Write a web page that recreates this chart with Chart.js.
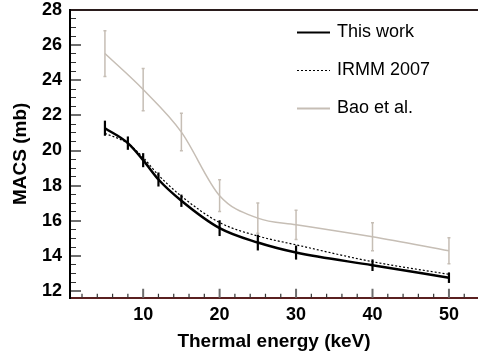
<!DOCTYPE html>
<html>
<head>
<meta charset="utf-8">
<script src="https://cdn.jsdelivr.net/npm/chart.js@4"></script>
<style>
  html, body { margin: 0; padding: 0; background: #fff; }
</style>
</head>
<body>
<canvas id="chart" width="478" height="358"></canvas>
<script>
// thermal energies (keV)
const energies = [5, 8, 10, 12, 15, 20, 25, 30, 40, 50];
const thisWork = [21.27, 20.42, 19.45, 18.35, 17.14, 15.58, 14.76, 14.19, 13.47, 12.76];
const thisWorkErr = [0.43, 0.38, 0.4, 0.4, 0.35, 0.45, 0.45, 0.4, 0.33, 0.3];
const irmm2007 = [20.98, 20.4, 19.6, 18.6, 17.4, 15.9, 15.13, 14.63, 13.67, 12.95];

const baoEnergies = [5, 10, 15, 20, 25, 30, 40, 50];
const bao = [25.52, 23.47, 21.05, 17.43, 16.15, 15.77, 15.09, 14.29];
const baoErr = [1.3, 1.2, 1.07, 0.9, 0.86, 0.83, 0.8, 0.74];

const xTicks = [10, 20, 30, 40, 50];
const yTicks = [12, 14, 16, 18, 20, 22, 24, 26, 28];

const pts = (xs, ys) => xs.map((x, i) => ({ x: x, y: ys[i] }));

const BAO_COLOR = '#c6beb5';
const FONT = '"Liberation Sans", Arial, sans-serif';

// minor y ticks every 0.5 mb between the labelled ones
const yMinor = [];
for (let k = 1; k < 32; k++) if (k % 4 !== 0) yMinor.push(12 + k * 0.5);

// error bars and bottom tick marks, through the scales
const marks = {
  id: 'marks',
  afterDatasetsDraw(chart) {
    const { ctx, scales: { x, y } } = chart;
    const bottom = y.getPixelForValue(y.min);

    const draw = (xs, ys, errs, color, width, cap) => {
      ctx.save();
      ctx.strokeStyle = color;
      ctx.lineWidth = width;
      xs.forEach((v, i) => {
        const px = x.getPixelForValue(v);
        const hi = y.getPixelForValue(ys[i] + errs[i]);
        const lo = y.getPixelForValue(ys[i] - errs[i]);
        ctx.beginPath();
        ctx.moveTo(px, hi);
        ctx.lineTo(px, lo);
        if (cap) {
          ctx.moveTo(px - cap, hi); ctx.lineTo(px + cap, hi);
          ctx.moveTo(px - cap, lo); ctx.lineTo(px + cap, lo);
        }
        ctx.stroke();
      });
      ctx.restore();
    };
    draw(baoEnergies, bao, baoErr, BAO_COLOR, 1.5, 1.5);
    draw(energies, thisWork, thisWorkErr, '#000', 2.2, 0);

    ctx.save();
    ctx.strokeStyle = '#333';
    ctx.lineWidth = 1.2;
    ctx.beginPath();
    for (let v = 2; v < x.max; v += 2) {
      if (v % 10 === 0) continue;
      const px = x.getPixelForValue(v);
      ctx.moveTo(px, bottom);
      ctx.lineTo(px, bottom - 4);
    }
    ctx.stroke();
    ctx.strokeStyle = '#6e6e6e';
    ctx.lineWidth = 2;
    ctx.beginPath();
    xTicks.forEach(v => {
      const px = x.getPixelForValue(v);
      ctx.moveTo(px, bottom);
      ctx.lineTo(px, bottom - 9);
    });
    ctx.stroke();
    ctx.restore();
  }
};

// legend in the upper right
const legendBox = {
  id: 'legendBox',
  afterDraw(chart) {
    const { ctx } = chart;
    ctx.save();
    ctx.font = '18px ' + FONT;
    ctx.textBaseline = 'middle';
    ctx.fillStyle = '#000';
    chart.data.datasets.forEach((ds, i) => {
      const ly = 32 + i * 38;
      ctx.strokeStyle = ds.borderColor;
      ctx.lineWidth = ds.borderDash ? 1 : 2;
      ctx.setLineDash(ds.borderDash || []);
      ctx.beginPath();
      ctx.moveTo(297, ly + 0.5);
      ctx.lineTo(330, ly + 0.5);
      ctx.stroke();
      ctx.setLineDash([]);
      ctx.fillText(ds.label, 337, ly);
    });
    ctx.restore();
  }
};

new Chart(document.getElementById('chart'), {
  type: 'line',
  data: {
    datasets: [
      {
        label: 'This work',
        data: pts(energies, thisWork),
        borderColor: '#000',
        borderWidth: 2.5,
        pointRadius: 0,
        cubicInterpolationMode: 'monotone'
      },
      {
        label: 'IRMM 2007',
        data: pts(energies, irmm2007),
        borderColor: '#000',
        borderWidth: 1.2,
        borderDash: [2, 2],
        pointRadius: 0,
        cubicInterpolationMode: 'monotone'
      },
      {
        label: 'Bao et al.',
        data: pts(baoEnergies, bao),
        borderColor: BAO_COLOR,
        borderWidth: 1.5,
        pointRadius: 0,
        cubicInterpolationMode: 'monotone'
      }
    ]
  },
  options: {
    responsive: false,
    animation: false,
    layout: { autoPadding: false, padding: { top: 10, right: 0, left: 0, bottom: 0 } },
    plugins: { legend: { display: false }, tooltip: { enabled: false } },
    scales: {
      x: {
        type: 'linear',
        min: 0.43,
        max: 53.8,
        afterBuildTicks: s => { s.ticks = xTicks.map(v => ({ value: v })); },
        afterFit: s => { s.height = 60.3; s.paddingLeft = 0; s.paddingRight = 0; },
        grid: { display: false, drawTicks: false },
        border: { display: true, color: '#5a2020', width: 2 },
        ticks: {
          color: '#000',
          padding: 7,
          maxRotation: 0,
          font: { family: FONT, size: 18, weight: 'bold' }
        },
        title: {
          display: true,
          text: 'Thermal energy (keV)',
          color: '#000',
          padding: { top: 0, bottom: 5 },
          font: { family: FONT, size: 19, weight: 'bold' }
        }
      },
      // top frame line
      xTop: {
        type: 'linear',
        position: 'top',
        min: 0.43,
        max: 53.8,
        afterFit: s => { s.height = 0; s.paddingLeft = 0; s.paddingRight = 0; },
        grid: { display: false, drawTicks: false },
        border: { display: true, color: '#2a1c1c', width: 2 },
        ticks: { display: false }
      },
      y: {
        min: 11.62,
        max: 28,
        weight: 1,
        afterBuildTicks: s => { s.ticks = yTicks.map(v => ({ value: v })); },
        afterFit: s => { s.width = 70; s.paddingTop = 0; s.paddingBottom = 0; },
        grid: {
          display: true,
          drawOnChartArea: false,
          drawTicks: true,
          tickLength: -11,
          color: '#6e6e6e',
          lineWidth: 2
        },
        border: { display: true, color: '#000', width: 2 },
        ticks: {
          color: '#000',
          padding: 19,
          font: { family: FONT, size: 18, weight: 'bold' }
        },
        title: {
          display: true,
          text: 'MACS (mb)',
          color: '#000',
          padding: { top: 9, bottom: 0 },
          font: { family: FONT, size: 19, weight: 'bold' }
        }
      },
      // minor y ticks
      yMinor: {
        type: 'linear',
        position: 'left',
        min: 11.62,
        max: 28,
        weight: 0,
        afterBuildTicks: s => { s.ticks = yMinor.map(v => ({ value: v })); },
        afterFit: s => { s.width = 0; s.paddingTop = 0; s.paddingBottom = 0; },
        grid: {
          display: true,
          drawOnChartArea: false,
          drawTicks: true,
          tickLength: -6,
          color: '#333',
          lineWidth: 1
        },
        border: { display: false },
        ticks: { display: false }
      }
    }
  },
  plugins: [marks, legendBox]
});
</script>
</body>
</html>
